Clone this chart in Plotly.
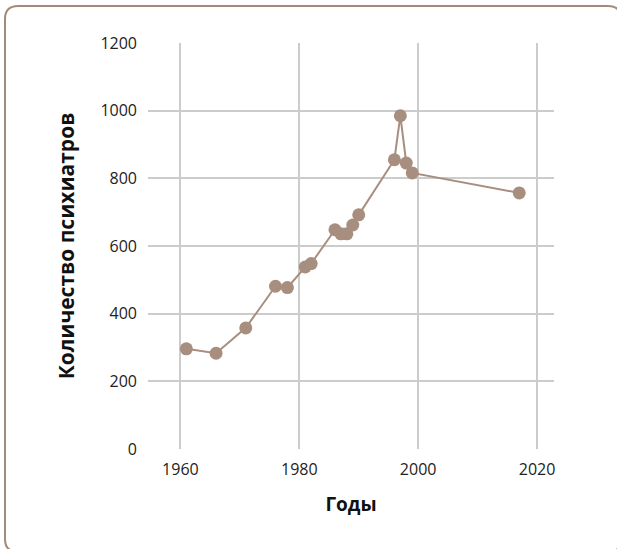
import plotly.graph_objects as go

years = [1961, 1966, 1971, 1976, 1978, 1981, 1982, 1986, 1987, 1988, 1989, 1990,
         1996, 1997, 1998, 1999, 2017]
psychiatrists = [296, 283, 358, 481, 477, 538, 548, 648, 636, 636, 662, 692,
                 855, 985, 845, 816, 757]
x_ticks = [1960, 1980, 2000, 2020]
y_ticks = [0, 200, 400, 600, 800, 1000, 1200]

x_title = "Годы"
y_title = "Количество психиатров"

COLOR = "#a88e7f"
W, H = 617, 549
ML, MR, MT, MB = 148, 63, 43, 100
PW, PH = W - ML - MR, H - MT - MB


def px(x):
    return (x - ML) / PW


def py(y):
    return (H - MB - y) / PH


def rounded_rect(x0, y0, x1, y1, r):
    pts = [
        ("M", [(x0 + r, y0)]),
        ("L", [(x1 - r, y0)]),
        ("Q", [(x1, y0), (x1, y0 + r)]),
        ("L", [(x1, y1 - r)]),
        ("Q", [(x1, y1), (x1 - r, y1)]),
        ("L", [(x0 + r, y1)]),
        ("Q", [(x0, y1), (x0, y1 - r)]),
        ("L", [(x0, y0 + r)]),
        ("Q", [(x0, y0), (x0 + r, y0)]),
    ]
    s = ""
    for cmd, ps in pts:
        s += cmd + " " + " ".join(f"{px(a):.5f},{py(b):.5f}" for a, b in ps) + " "
    return s + "Z"


FONT = "Open Sans, sans-serif"

fig = go.Figure()
fig.add_trace(go.Scatter(
    x=years, y=psychiatrists, mode="lines+markers",
    line=dict(color=COLOR, width=2),
    marker=dict(color=COLOR, size=13),
    showlegend=False, hoverinfo="x+y",
))

fig.update_layout(
    width=W, height=H,
    margin=dict(l=ML, r=MR, t=MT, b=MB),
    paper_bgcolor="white", plot_bgcolor="white",
    font=dict(family=FONT, size=16, color="#222"),
    xaxis=dict(
        range=[1954.55, 2022.85], tickvals=x_ticks,
        showgrid=True, gridcolor="#cccccc", gridwidth=1.5,
        zeroline=False, showline=False, ticks="",
        ticklabelstandoff=9,
        title=dict(text=x_title, font=dict(size=19, color="#111", family=FONT, weight="bold"), standoff=18),
    ),
    yaxis=dict(
        range=[0, 1200], tickvals=y_ticks,
        showgrid=True, gridcolor="#cccccc", gridwidth=1.5,
        zeroline=False, showline=False, ticks="",
        ticklabelstandoff=10,
        title=dict(text=y_title, font=dict(size=21, color="#111", family=FONT, weight="bold"), standoff=20),
    ),
    shapes=[dict(
        type="path", xref="paper", yref="paper",
        path=rounded_rect(5, 6, 621, 552, 13),
        line=dict(color="#a38b7c", width=2), fillcolor="rgba(0,0,0,0)",
        layer="above",
    )],
)

fig.write_html(
    "out.html",
    config={"displayModeBar": False},
    post_script="document.body.style.margin='0px';document.body.style.overflow='hidden';",
)
